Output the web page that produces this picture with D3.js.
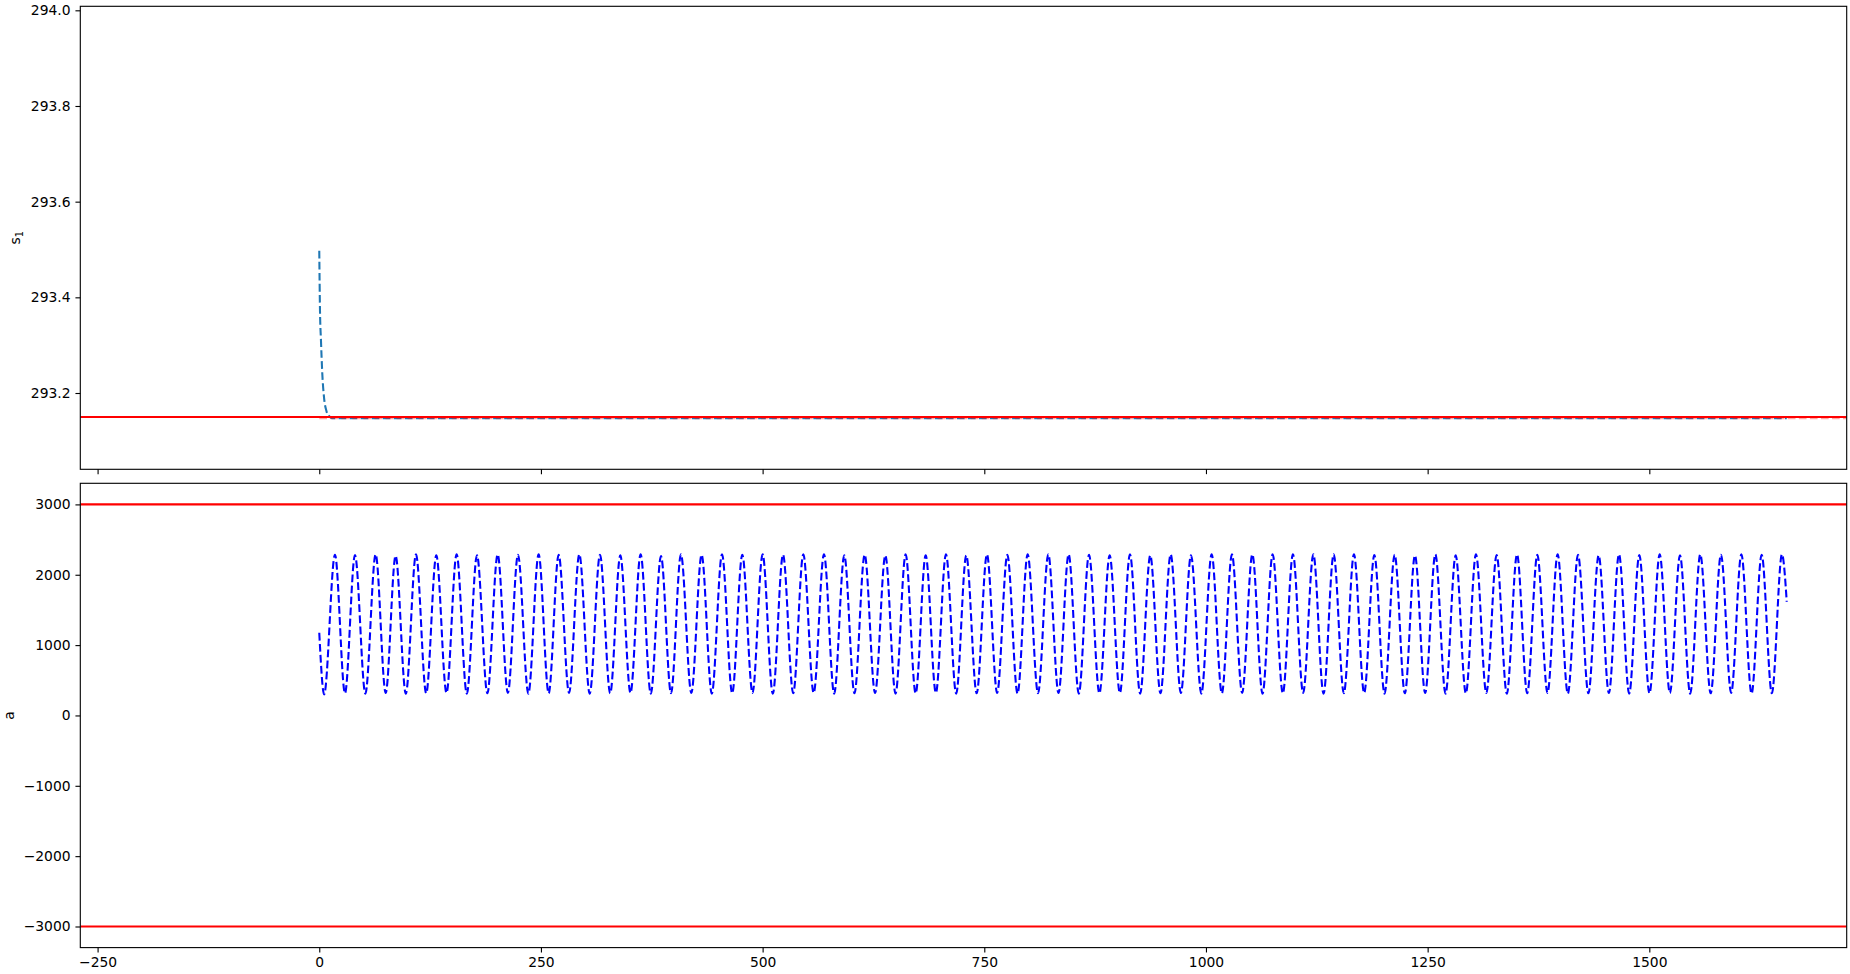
<!DOCTYPE html>
<html>
<head>
<meta charset="utf-8">
<script src="https://cdn.jsdelivr.net/npm/d3@7"></script>
<style>
  html, body { margin: 0; padding: 0; background: #fff; }
  svg { display: block; }
  text { font-family: "DejaVu Sans", sans-serif; fill: #000; }
</style>
</head>
<body>
<script>
// ---------------- data ----------------
const xTicks = [-250, 0, 250, 500, 750, 1000, 1250, 1500];
const sTicks = [293.2, 293.4, 293.6, 293.8, 294.0];
const aTicks = [3000, 2000, 1000, 0, -1000, -2000, -3000];

// s1 (top panel): fast decay to the set point, then flat
const sTime  = [0, 0.4, 0.8, 1.9, 3.4, 5.3, 8.3, 11, 14, 1655];
const sValue = [293.4975, 293.43, 293.3736, 293.311, 293.241, 293.192, 293.161, 293.152, 293.1475, 293.1475];
const sRefValue = 293.1475;   // pale red dashed reference
const sLimit = 293.15;        // solid red line

// a (bottom panel): oscillation, extrema
const peakTime = [17.7, 40.3, 63.6, 86.1, 109.1, 132.0, 154.9, 177.9, 201.2, 224.1, 247.4, 270.0,
  293.3, 316.6, 339.5, 362.4, 385.4, 407.9, 431.2, 454.2, 477.1, 500.0, 523.0, 545.9,
  569.2, 592.1, 615.1, 638.4, 661.3, 683.9, 706.8, 729.7, 753.0, 776.0, 798.9, 822.2,
  845.1, 868.1, 891.4, 914.3, 937.2, 960.2, 983.1, 1006.4, 1029.3, 1052.3, 1075.2, 1098.1,
  1121.1, 1144.0, 1166.9, 1189.9, 1212.8, 1235.7, 1258.7, 1281.6, 1304.5, 1327.8, 1350.8, 1373.7,
  1396.6, 1419.6, 1442.9, 1465.8, 1488.7, 1511.7, 1534.6, 1557.5, 1580.8, 1603.8, 1626.7, 1649.6];
const peakValue = [2285, 2280, 2290, 2270, 2290, 2275, 2290, 2275, 2290, 2285, 2290, 2285,
  2290, 2285, 2275, 2290, 2265, 2290, 2285, 2290, 2285, 2290, 2285, 2290,
  2290, 2275, 2285, 2275, 2290, 2275, 2290, 2275, 2290, 2285, 2290, 2290,
  2290, 2285, 2275, 2290, 2275, 2290, 2275, 2290, 2290, 2290, 2290, 2290,
  2290, 2290, 2290, 2280, 2285, 2275, 2290, 2275, 2290, 2280, 2290, 2285,
  2290, 2285, 2275, 2290, 2280, 2290, 2275, 2290, 2285, 2290, 2285, 2290];
const troughTime = [5.5, 29.0, 52.0, 74.9, 97.6, 120.6, 143.5, 166.4, 189.6, 212.7, 235.8, 258.7,
  281.7, 305.0, 328.1, 351.0, 373.9, 396.7, 419.6, 442.7, 465.7, 488.6, 511.5, 534.5,
  557.6, 580.7, 603.6, 626.8, 649.9, 672.6, 695.4, 718.3, 741.4, 764.5, 787.5, 810.6,
  833.7, 856.6, 879.8, 902.9, 925.8, 948.7, 971.7, 994.8, 1017.9, 1040.8, 1063.8, 1086.7,
  1109.6, 1132.6, 1155.5, 1178.4, 1201.4, 1224.3, 1247.2, 1270.2, 1293.1, 1316.2, 1339.3, 1362.3,
  1385.2, 1408.1, 1431.3, 1454.4, 1477.3, 1500.2, 1523.2, 1546.1, 1569.2, 1592.3, 1615.3, 1638.2];
const troughValue = [300, 315, 310, 320, 310, 315, 320, 310, 315, 320, 310, 315,
  320, 310, 315, 320, 310, 315, 320, 310, 315, 320, 310, 315,
  320, 310, 315, 320, 310, 315, 320, 310, 315, 320, 310, 315,
  320, 310, 315, 320, 310, 315, 320, 310, 315, 320, 310, 315,
  320, 310, 315, 320, 310, 315, 320, 310, 315, 320, 310, 315,
  320, 310, 315, 320, 310, 315, 320, 310, 315, 320, 310, 315];
const aStart = [0, 1175];
const aEnd = [1655, 1615];
const aLimits = [3000, -3000];

// ---------------- layout ----------------
const W = 1850, H = 974;
const left = 80.3, right = 1846.7;
const top1 = 6.3, bot1 = 469.3;
const top2 = 483.3, bot2 = 947.6;
const pt = 100 / 72;
const lw = 1.5 * pt;
const dash = `${3.7 * lw},${1.6 * lw}`;
const fs = 10 * pt;
const tickLen = 3.5 * pt, tickPad = 3.5 * pt;

const svg = d3.select("body").append("svg").attr("width", W).attr("height", H);

const x = d3.scaleLinear().domain([-269.5, 1722.6]).range([left, right]);
const yS = d3.scaleLinear().domain([293.0405, 294.0084]).range([bot1, top1]);
const yA = d3.scaleLinear().domain([-3300, 3300]).range([bot2, top2]);

const defs = svg.append("defs");
defs.append("clipPath").attr("id", "c1").append("rect")
  .attr("x", left).attr("y", top1).attr("width", right - left).attr("height", bot1 - top1);
defs.append("clipPath").attr("id", "c2").append("rect")
  .attr("x", left).attr("y", top2).attr("width", right - left).attr("height", bot2 - top2);

// ---------- top panel ----------
const g1 = svg.append("g").attr("clip-path", "url(#c1)");
const sPts = sTime.map((t, i) => [t, sValue[i]]);
g1.append("path")
  .attr("d", d3.line().x(d => x(d[0])).y(d => yS(d[1])).curve(d3.curveMonotoneX)(sPts))
  .attr("fill", "none").attr("stroke", "#1f77b4").attr("stroke-width", lw).attr("stroke-dasharray", dash);
g1.append("path")
  .attr("d", d3.line().x(d => x(d[0])).y(d => yS(d[1]))([[0, sRefValue], [x.domain()[1], sRefValue]]))
  .attr("fill", "none").attr("stroke", "#ff0000").attr("stroke-opacity", 0.35)
  .attr("stroke-width", lw).attr("stroke-dasharray", dash);
g1.append("line")
  .attr("x1", left).attr("x2", right).attr("y1", yS(sLimit)).attr("y2", yS(sLimit))
  .attr("stroke", "#ff0000").attr("stroke-width", lw);

// ---------- bottom panel ----------
const g2 = svg.append("g").attr("clip-path", "url(#c2)");
aLimits.forEach(v => {
  g2.append("line").attr("x1", left).attr("x2", right).attr("y1", yA(v)).attr("y2", yA(v))
    .attr("stroke", "#ff0000").attr("stroke-width", lw);
});
const aPts = [aStart];
for (let i = 0; i < peakTime.length; i++) {
  aPts.push([troughTime[i], troughValue[i]]);
  aPts.push([peakTime[i], peakValue[i]]);
}
aPts.push(aEnd);
g2.append("path")
  .attr("d", d3.line().x(d => x(d[0])).y(d => yA(d[1])).curve(d3.curveMonotoneX)(aPts))
  .attr("fill", "none").attr("stroke", "#0000ff").attr("stroke-width", lw).attr("stroke-dasharray", dash);

// ---------- axes ----------
const fmtMinus = s => s.replace("-", "\u2212");
function frame(top, bot) {
  svg.append("rect").attr("x", left).attr("y", top).attr("width", right - left).attr("height", bot - top)
    .attr("fill", "none").attr("stroke", "#000").attr("stroke-width", 0.8 * pt);
}
function styleAxis(g) {
  g.select(".domain").remove();
  g.selectAll(".tick line").attr("stroke", "#000").attr("stroke-width", 0.8 * pt);
  g.selectAll(".tick text").attr("font-size", fs).attr("font-family", "DejaVu Sans, sans-serif").attr("fill", "#000");
}
// top x axis (no labels)
svg.append("g").attr("transform", `translate(0,${bot1})`)
  .call(d3.axisBottom(x).tickValues(xTicks).tickSize(tickLen).tickFormat(""))
  .call(styleAxis);
// bottom x axis
svg.append("g").attr("transform", `translate(0,${bot2})`)
  .call(d3.axisBottom(x).tickValues(xTicks).tickSize(tickLen).tickPadding(tickPad)
    .tickFormat(d => fmtMinus(String(d))))
  .call(styleAxis);
// top y
svg.append("g").attr("transform", `translate(${left},0)`)
  .call(d3.axisLeft(yS).tickValues(sTicks).tickSize(tickLen).tickPadding(tickPad).tickFormat(d3.format(".1f")))
  .call(styleAxis);
// bottom y
svg.append("g").attr("transform", `translate(${left},0)`)
  .call(d3.axisLeft(yA).tickValues(aTicks).tickSize(tickLen).tickPadding(tickPad)
    .tickFormat(d => fmtMinus(String(d))))
  .call(styleAxis);
frame(top1, bot1);
frame(top2, bot2);

// y labels
const l1 = svg.append("text").attr("transform", `translate(20,${(top1 + bot1) / 2}) rotate(-90)`)
  .attr("text-anchor", "middle").attr("font-size", fs);
l1.append("tspan").text("s");
l1.append("tspan").attr("dy", fs * 0.2).attr("font-size", fs * 0.7).text("1");
svg.append("text").attr("transform", `translate(14,${(top2 + bot2) / 2}) rotate(-90)`)
  .attr("text-anchor", "middle").attr("font-size", fs).text("a");
</script>
</body>
</html>
